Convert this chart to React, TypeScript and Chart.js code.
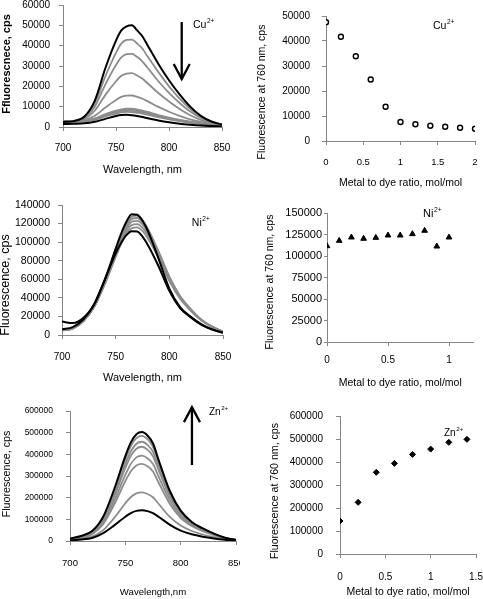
import React, { useEffect, useRef } from "react";
import { Chart, registerables } from "chart.js";

Chart.register(...registerables);

const FONT = '"Liberation Sans", Arial, Helvetica, sans-serif';
Chart.defaults.font.family = FONT;

const BLACK = "#000000";
const GRAY = "#8c8c8c";
const AXIS = "#868686";

// ---------- shared wavelength grid (nm) ----------
const WAVELENGTHS = [700, 710, 720, 730, 740, 750, 755, 760, 765, 770, 775, 780, 790, 800, 810, 820, 830, 840, 850];
const SPEC_X_TICKS = [700, 750, 800, 850];

// ---------- Cu2+ spectra (cps) ----------
const CU_B1 = [2500, 2900, 5000, 13000, 29000, 42500, 47500, 49500, 50000, 47500, 44500, 40000, 31000, 23000, 16000, 10000, 5500, 2700, 1200];
const CU_G1 = [2800, 3000, 4800, 11500, 25000, 36500, 41000, 42800, 43000, 41000, 38500, 34500, 27000, 20000, 14000, 9000, 5000, 2600, 1200];
const CU_G2 = [2800, 3000, 4500, 10000, 21000, 30500, 34200, 35800, 36000, 34400, 32200, 29000, 22500, 16800, 11800, 7600, 4400, 2400, 1100];
const CU_G3 = [2800, 3000, 4000, 8000, 15800, 22500, 25200, 26300, 26500, 25300, 23700, 21400, 16700, 12500, 8900, 5800, 3500, 2000, 1000];
const CU_G4 = [2800, 2900, 3400, 5500, 9600, 13300, 14800, 15400, 15500, 14800, 13900, 12600, 9900, 7500, 5500, 3800, 2500, 1500, 800];
const CU_G5 = [2700, 2800, 3100, 4200, 6300, 8000, 8700, 9000, 9000, 8600, 8100, 7400, 5900, 4600, 3500, 2600, 1800, 1100, 600];
const CU_G6 = [2700, 2750, 3000, 4000, 6000, 7600, 8200, 8500, 8500, 8100, 7600, 7000, 5600, 4400, 3300, 2500, 1700, 1050, 600];
const CU_G7 = [2600, 2700, 2900, 3800, 5600, 7100, 7700, 8000, 7950, 7600, 7100, 6500, 5200, 4100, 3100, 2300, 1600, 1000, 550];
const CU_G8 = [2600, 2650, 2800, 3600, 5200, 6600, 7200, 7400, 7350, 7000, 6600, 6000, 4800, 3800, 2900, 2100, 1500, 950, 500];
const CU_B2 = [1500, 1600, 1800, 2600, 4000, 5400, 5900, 6000, 5800, 5400, 4900, 4300, 3200, 2300, 1600, 1100, 700, 450, 300];
const CU_SPEC_Y_TICKS = [0, 10000, 20000, 30000, 40000, 50000, 60000];

// ---------- Cu2+ titration ----------
const CU_RATIO = [0, 0.2, 0.4, 0.6, 0.8, 1.0, 1.2, 1.4, 1.6, 1.8, 2.0];
const CU_F760 = [47500, 41700, 33900, 24600, 13700, 7600, 6700, 6100, 5700, 5300, 4900];
const CU_RATIO_X_TICKS = [0, 0.5, 1, 1.5, 2];
const CU_RATIO_Y_TICKS = [0, 10000, 20000, 30000, 40000, 50000];

// ---------- Ni2+ spectra (cps) ----------
const NI_B1 = [6000, 8500, 17000, 33000, 60000, 93000, 109000, 122000, 130000, 129500, 123000, 112000, 82000, 50000, 30000, 19500, 11500, 6000, 2500];
const NI_B2 = [14500, 12800, 18500, 33500, 60000, 88000, 99000, 107500, 111800, 111500, 106000, 97000, 74000, 47500, 29000, 19000, 11000, 5800, 2400];
const NI_G1 = [5500, 7500, 15500, 30500, 55000, 84000, 98000, 109000, 115000, 116000, 112000, 104000, 83000, 58000, 39000, 26000, 15500, 8500, 3500];
const NI_G2 = [5300, 7300, 15300, 30500, 55500, 85500, 100000, 111500, 118500, 119500, 115500, 107000, 85000, 59500, 40000, 26500, 15800, 8600, 3500];
const NI_G3 = [5100, 7100, 15100, 30500, 56000, 87000, 102000, 114000, 122000, 123000, 119000, 110000, 87000, 61000, 41000, 27000, 16000, 8800, 3600];
const NI_G4 = [4900, 6900, 15000, 30500, 56500, 88500, 104000, 116500, 125000, 126000, 121500, 112000, 88500, 62000, 41500, 27500, 16200, 9000, 3600];
const NI_G5 = [4700, 6700, 14800, 30500, 57000, 90000, 106000, 119000, 127500, 128500, 124000, 114500, 90000, 63000, 42000, 28000, 16500, 9000, 3600];
const NI_SPEC_Y_TICKS = [0, 20000, 40000, 60000, 80000, 100000, 120000, 140000];

// ---------- Ni2+ titration ----------
const NI_RATIO = [0, 0.1, 0.2, 0.3, 0.4, 0.5, 0.6, 0.7, 0.8, 0.9, 1.0];
const NI_F760 = [111600, 117800, 121700, 120200, 121300, 124000, 124000, 125600, 129500, 111200, 121700];
const NI_RATIO_X_TICKS = [0, 0.5, 1];
const NI_RATIO_X_MAX = 1.2;
const NI_RATIO_Y_TICKS = [0, 25000, 50000, 75000, 100000, 125000, 150000];

// ---------- Zn2+ spectra (cps) ----------
const ZN_B1 = [11000, 23000, 46000, 112000, 240000, 392000, 455000, 493000, 503000, 487000, 450000, 375000, 233000, 140000, 88000, 58000, 34000, 15000, 4500];
const ZN_G7 = [9500, 21000, 43000, 106000, 229000, 376000, 438000, 475000, 485000, 470000, 435000, 363000, 227000, 137000, 86000, 56000, 33000, 14500, 4300];
const ZN_G6 = [9000, 20000, 40500, 100000, 216000, 355000, 414000, 449000, 458000, 444000, 411000, 344000, 216000, 131000, 83000, 54000, 32000, 14000, 4200];
const ZN_G5 = [8500, 19000, 38500, 95000, 205000, 337000, 393000, 426000, 435000, 422000, 391000, 328000, 207000, 126000, 80000, 52000, 31000, 13500, 4000];
const ZN_G4 = [7500, 17000, 35000, 86000, 186000, 305000, 356000, 386000, 394000, 382000, 355000, 298000, 190000, 117000, 75000, 49000, 29000, 13000, 4000];
const ZN_G3 = [7000, 15500, 31500, 78000, 168000, 276000, 322000, 349000, 356000, 345000, 321000, 270000, 173000, 107000, 69000, 45000, 27000, 12000, 3800];
const ZN_G2 = [4500, 10000, 20500, 50000, 107000, 174000, 203000, 220000, 224000, 217000, 202000, 172000, 112000, 71000, 46000, 30000, 18000, 8500, 2800];
const ZN_B2 = [3000, 6500, 14000, 36000, 72000, 112000, 129000, 139000, 142000, 138000, 129000, 112000, 76000, 48000, 31000, 20000, 12000, 6000, 2000];
const ZN_SPEC_Y_TICKS = [0, 100000, 200000, 300000, 400000, 500000, 600000];

// ---------- Zn2+ titration ----------
const ZN_RATIO = [0, 0.2, 0.4, 0.6, 0.8, 1.0, 1.2, 1.4];
const ZN_F760 = [143500, 224600, 355000, 394000, 433000, 456000, 485500, 498500];
const ZN_RATIO_X_TICKS = [0, 0.5, 1, 1.5];
const ZN_RATIO_Y_TICKS = [0, 100000, 200000, 300000, 400000, 500000, 600000];

// ---------- texts ----------
const X_TITLE_SPEC = "Wavelength, nm";
const X_TITLE_SPEC_ZN = "Wavelength,nm";
const X_TITLE_RATIO = "Metal to dye ratio, mol/mol";
const Y_TITLE_CU_SPEC = "Ffluorescnece, cps";
const Y_TITLE_SPEC = "Fluorescence, cps";
const Y_TITLE_RATIO = "Fluorescence at 760 nm, cps";

const spectrum = (vals: number[], color: string, width: number) => ({
  data: WAVELENGTHS.map((w, i) => ({ x: w, y: vals[i] })),
  borderColor: color,
  backgroundColor: color,
  borderWidth: width,
  pointRadius: 0,
  fill: false,
  cubicInterpolationMode: "monotone" as const,
});

const points = (xs: number[], ys: number[], style: any) => ({
  data: xs.map((x, i) => ({ x, y: ys[i] })),
  ...style,
});

function drawSup(ctx: CanvasRenderingContext2D, x: number, y: number, base: string, sup: string, size: number) {
  ctx.font = `${size}px ${FONT}`;
  ctx.textAlign = "left";
  ctx.textBaseline = "middle";
  ctx.fillText(base, x, y);
  const w = ctx.measureText(base).width;
  ctx.font = `${size * 0.62}px ${FONT}`;
  ctx.fillText(sup, x + w + 0.5, y - size * 0.36);
}

function makeAnnot(s: any) {
  return {
    id: "annot",
    afterDraw(chart: any) {
      const ctx: CanvasRenderingContext2D = chart.ctx;
      const xs = chart.scales.x;
      const ys = chart.scales.y;
      ctx.save();
      ctx.fillStyle = BLACK;
      ctx.strokeStyle = BLACK;
      for (const l of s.labels || []) {
        drawSup(ctx, xs.getPixelForValue(l.x), ys.getPixelForValue(l.y), l.base, l.sup, l.size);
      }
      for (const a of s.arrows || []) {
        const px = xs.getPixelForValue(a.x);
        const y1 = ys.getPixelForValue(a.from);
        const y2 = ys.getPixelForValue(a.to);
        const sg = y1 > y2 ? 1 : -1;
        ctx.lineWidth = 2.3;
        ctx.lineCap = "butt";
        ctx.beginPath();
        ctx.moveTo(px, y1);
        ctx.lineTo(px, y2);
        ctx.stroke();
        ctx.beginPath();
        ctx.moveTo(px - 8, y2 + sg * 15);
        ctx.lineTo(px, y2);
        ctx.lineTo(px + 8, y2 + sg * 15);
        ctx.stroke();
      }
      const t = s.yTitle;
      if (t) {
        ctx.save();
        ctx.translate(t.x, t.y);
        ctx.rotate(-Math.PI / 2);
        ctx.font = `${t.bold ? "bold " : ""}${t.size}px ${FONT}`;
        ctx.textAlign = "center";
        ctx.textBaseline = "middle";
        ctx.fillText(t.text, 0, 0);
        ctx.restore();
      }
      ctx.restore();
    },
  };
}

function buildConfig(s: any): any {
  const tickFmt = (v: any) => String(v);
  return {
    type: s.type,
    data: { datasets: s.datasets },
    options: {
      animation: false,
      responsive: false,
      devicePixelRatio: 1,
      events: [],
      layout: { padding: s.pad },
      plugins: { legend: { display: false }, tooltip: { enabled: false } },
      scales: {
        x: {
          type: "linear",
          position: "bottom",
          min: s.xTicks[0],
          max: s.xMax ?? s.xTicks[s.xTicks.length - 1],
          afterBuildTicks: (sc: any) => {
            sc.ticks = s.xTicks.map((v: number) => ({ value: v }));
          },
          afterFit: (sc: any) => {
            sc.height = s.xHeight;
            sc.paddingLeft = 0;
            sc.paddingRight = 0;
          },
          ticks: {
            font: { family: FONT, size: s.xTickSize },
            color: BLACK,
            padding: s.xTickPad,
            maxRotation: 0,
            minRotation: 0,
            autoSkip: false,
            includeBounds: false,
            callback: tickFmt,
          },
          grid: { display: true, drawOnChartArea: false, drawTicks: true, tickLength: 4, color: AXIS, lineWidth: 1 },
          border: { display: true, color: AXIS, width: 1 },
          title: {
            display: true,
            text: s.xTitle,
            color: BLACK,
            font: { family: FONT, size: s.xTitleSize },
            padding: { top: 0, bottom: s.xTitlePad },
          },
        },
        y: {
          type: "linear",
          position: "left",
          min: s.yTicks[0],
          max: s.yTicks[s.yTicks.length - 1],
          afterBuildTicks: (sc: any) => {
            sc.ticks = s.yTicks.map((v: number) => ({ value: v }));
          },
          afterFit: (sc: any) => {
            sc.width = s.yWidth;
            sc.paddingTop = 0;
            sc.paddingBottom = 0;
          },
          ticks: {
            font: { family: FONT, size: s.yTickSize },
            color: BLACK,
            padding: s.yTickPad,
            autoSkip: false,
            includeBounds: false,
            callback: tickFmt,
          },
          grid: { display: true, drawOnChartArea: false, drawTicks: true, tickLength: s.yTickLen ?? 4, color: AXIS, lineWidth: 1 },
          border: { display: true, color: AXIS, width: 1 },
          title: { display: false },
        },
      },
    },
    plugins: [makeAnnot(s)],
  };
}

const CU_CIRCLE = { pointStyle: "circle", pointRadius: 2.5, pointBorderWidth: 1.4, borderColor: BLACK, backgroundColor: "#ffffff", pointBackgroundColor: "#ffffff", pointBorderColor: BLACK };
const NI_TRI = { pointStyle: "triangle", pointRadius: 3.3, pointBorderWidth: 1, borderColor: BLACK, backgroundColor: BLACK, pointBackgroundColor: BLACK, pointBorderColor: BLACK };
const ZN_DIAMOND = { pointStyle: "rectRot", pointRadius: 3, pointBorderWidth: 1, borderColor: BLACK, backgroundColor: BLACK, pointBackgroundColor: BLACK, pointBorderColor: BLACK };

const PANELS: any[] = [
  {
    // Cu spectra
    left: 0, top: 0, width: 240, height: 182,
    pad: { left: 0, top: 5, right: 18, bottom: 0 },
    yWidth: 63, xHeight: 55,
    type: "line",
    xTicks: SPEC_X_TICKS, yTicks: CU_SPEC_Y_TICKS,
    xTickSize: 10, xTickPad: 11, yTickSize: 10, yTickPad: 9,
    xTitle: X_TITLE_SPEC, xTitleSize: 11, xTitlePad: 5,
    yTitle: { text: Y_TITLE_CU_SPEC, x: 7, y: 64, size: 11, bold: true },
    labels: [{ x: 822.6, y: 50200, base: "Cu", sup: "2+", size: 10.5 }],
    arrows: [{ x: 812, from: 51600, to: 23600 }],
    datasets: [
      spectrum(CU_B1, BLACK, 2),
      spectrum(CU_B2, BLACK, 2),
      spectrum(CU_G1, GRAY, 1.8),
      spectrum(CU_G2, GRAY, 1.8),
      spectrum(CU_G3, GRAY, 1.8),
      spectrum(CU_G4, GRAY, 1.8),
      spectrum(CU_G5, GRAY, 1.8),
      spectrum(CU_G6, GRAY, 1.8),
      spectrum(CU_G7, GRAY, 1.8),
      spectrum(CU_G8, GRAY, 1.8),
    ],
  },
  {
    // Cu titration
    left: 240, top: 0, width: 243, height: 192,
    pad: { left: 0, top: 16, right: 8, bottom: 0 },
    yWidth: 86, xHeight: 51,
    type: "scatter",
    xTicks: CU_RATIO_X_TICKS, yTicks: CU_RATIO_Y_TICKS,
    xTickSize: 9.5, xTickPad: 12, yTickSize: 10, yTickPad: 12,
    xTitle: X_TITLE_RATIO, xTitleSize: 10.5, xTitlePad: 3,
    yTitle: { text: Y_TITLE_RATIO, x: 22, y: 92, size: 10.5 },
    labels: [{ x: 1.436, y: 46000, base: "Cu", sup: "2+", size: 10.5 }],
    datasets: [points(CU_RATIO, CU_F760, CU_CIRCLE)],
  },
  {
    // Ni spectra
    left: 0, top: 190, width: 240, height: 200,
    pad: { left: 0, top: 15, right: 17, bottom: 0 },
    yWidth: 62, xHeight: 55,
    type: "line",
    xTicks: SPEC_X_TICKS, yTicks: NI_SPEC_Y_TICKS,
    xTickSize: 10, xTickPad: 12, yTickSize: 10.5, yTickPad: 8,
    xTitle: X_TITLE_SPEC, xTitleSize: 11, xTitlePad: 5,
    yTitle: { text: Y_TITLE_SPEC, x: 6, y: 95, size: 12.5 },
    labels: [{ x: 821, y: 120600, base: "Ni", sup: "2+", size: 10.5 }],
    datasets: [
      spectrum(NI_B1, BLACK, 2),
      spectrum(NI_B2, BLACK, 2),
      spectrum(NI_G1, GRAY, 1.8),
      spectrum(NI_G2, GRAY, 1.8),
      spectrum(NI_G3, GRAY, 1.8),
      spectrum(NI_G4, GRAY, 1.8),
      spectrum(NI_G5, GRAY, 1.8),
    ],
  },
  {
    // Ni titration
    left: 240, top: 190, width: 243, height: 205,
    pad: { left: 0, top: 23, right: 9.6, bottom: 0 },
    yWidth: 87, xHeight: 53,
    type: "scatter",
    xTicks: NI_RATIO_X_TICKS, xMax: NI_RATIO_X_MAX, yTicks: NI_RATIO_Y_TICKS,
    xTickSize: 10, xTickPad: 8, yTickSize: 11, yTickPad: 2, yTickLen: 3,
    xTitle: X_TITLE_RATIO, xTitleSize: 10.5, xTitlePad: 5.7,
    yTitle: { text: Y_TITLE_RATIO, x: 30, y: 92, size: 10.5 },
    labels: [{ x: 0.787, y: 148800, base: "Ni", sup: "2+", size: 11 }],
    datasets: [points(NI_RATIO, NI_F760, NI_TRI)],
  },
  {
    // Zn spectra
    left: 0, top: 390, width: 240, height: 209,
    pad: { left: 0, top: 21, right: 4, bottom: 0 },
    yWidth: 70, xHeight: 58,
    type: "line",
    xTicks: SPEC_X_TICKS, yTicks: ZN_SPEC_Y_TICKS,
    xTickSize: 9.5, xTickPad: 12.3, yTickSize: 8.5, yTickPad: 13,
    xTitle: X_TITLE_SPEC_ZN, xTitleSize: 9.6, xTitlePad: 1.2,
    yTitle: { text: Y_TITLE_SPEC, x: 7, y: 84, size: 10.7 },
    labels: [{ x: 825.6, y: 595000, base: "Zn", sup: "2+", size: 10 }],
    arrows: [{ x: 810.2, from: 350800, to: 618000 }],
    datasets: [
      spectrum(ZN_B1, BLACK, 2),
      spectrum(ZN_B2, BLACK, 2),
      spectrum(ZN_G7, GRAY, 1.8),
      spectrum(ZN_G6, GRAY, 1.8),
      spectrum(ZN_G5, GRAY, 1.8),
      spectrum(ZN_G4, GRAY, 1.8),
      spectrum(ZN_G3, GRAY, 1.8),
      spectrum(ZN_G2, GRAY, 1.8),
    ],
  },
  {
    // Zn titration
    left: 240, top: 390, width: 243, height: 209,
    pad: { left: 0, top: 26, right: 7, bottom: 0 },
    yWidth: 100, xHeight: 45,
    type: "scatter",
    xTicks: ZN_RATIO_X_TICKS, yTicks: ZN_RATIO_Y_TICKS,
    xTickSize: 10, xTickPad: 13, yTickSize: 10, yTickPad: 13,
    xTitle: X_TITLE_RATIO, xTitleSize: 10.5, xTitlePad: 0.7,
    yTitle: { text: Y_TITLE_RATIO, x: 35, y: 101, size: 10.6 },
    labels: [{ x: 1.147, y: 526000, base: "Zn", sup: "2+", size: 10 }],
    datasets: [points(ZN_RATIO, ZN_F760, ZN_DIAMOND)],
  },
];

function Panel({ spec }: { spec: any }) {
  const ref = useRef<HTMLCanvasElement>(null);
  useEffect(() => {
    if (!ref.current) return;
    const chart = new Chart(ref.current, buildConfig(spec));
    return () => chart.destroy();
  }, [spec]);
  return (
    <canvas
      ref={ref}
      width={spec.width}
      height={spec.height}
      style={{ position: "absolute", left: spec.left, top: spec.top, width: spec.width, height: spec.height }}
    />
  );
}

export default function App() {
  return (
    <div style={{ position: "absolute", left: 0, top: 0, width: 483, height: 599, background: "#ffffff", overflow: "hidden" }}>
      {PANELS.map((p, i) => (
        <Panel key={i} spec={p} />
      ))}
    </div>
  );
}
